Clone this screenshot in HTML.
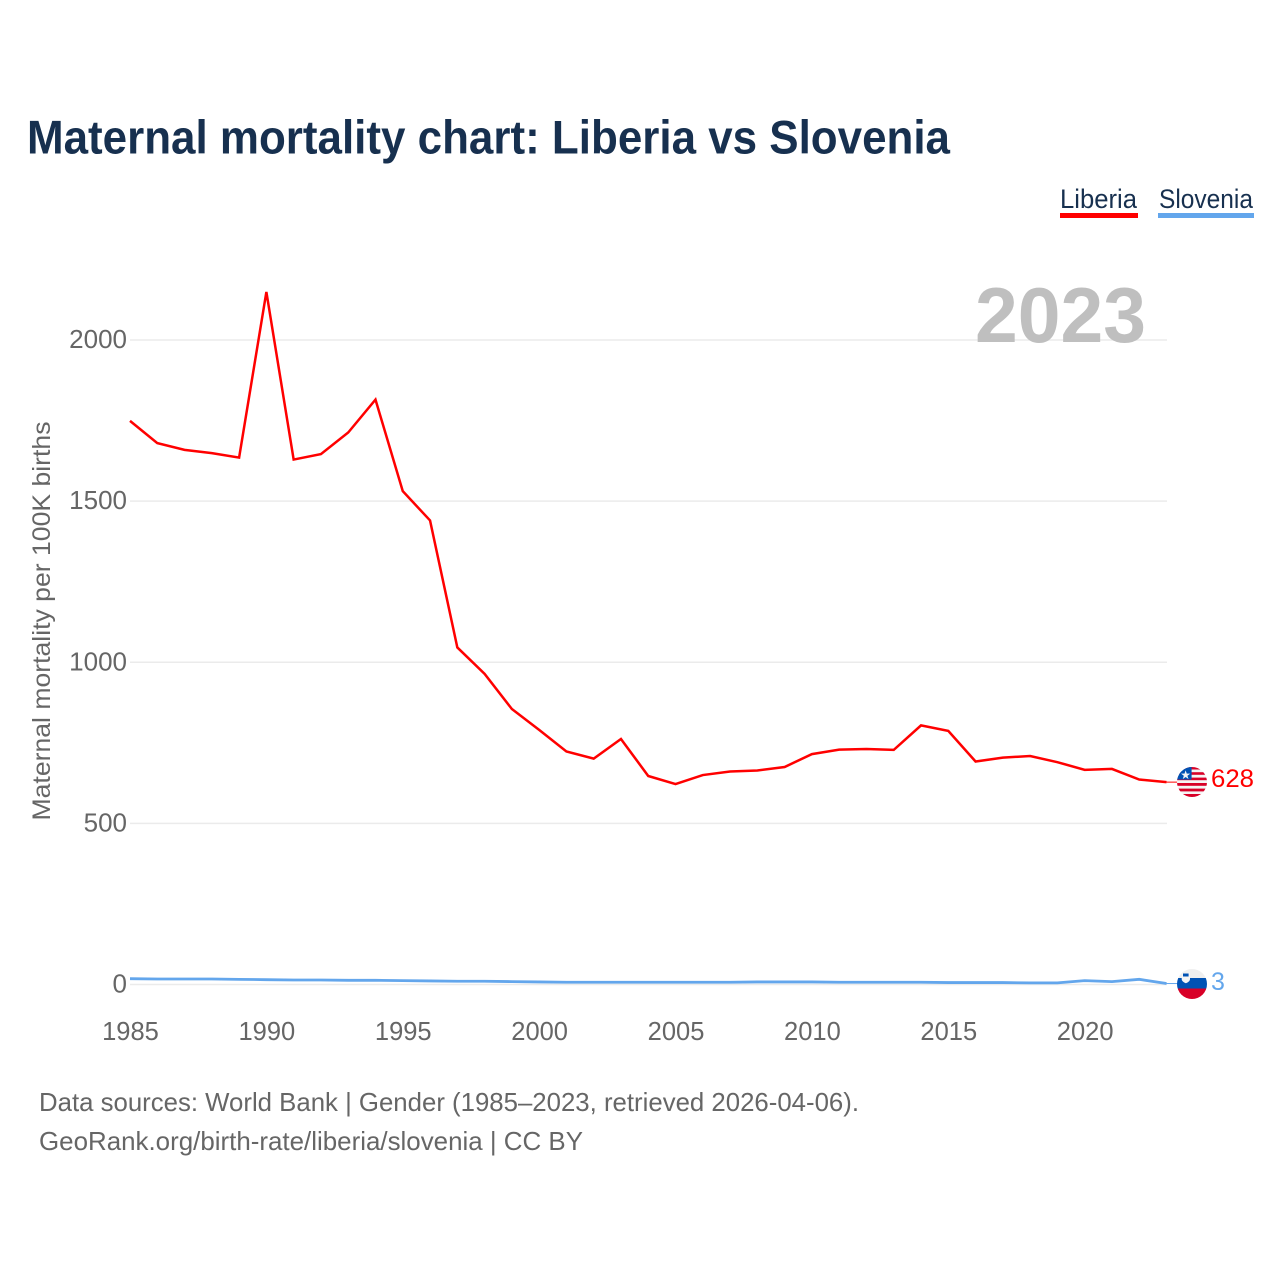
<!DOCTYPE html>
<html lang="en">
<head>
<meta charset="utf-8">
<title>Maternal mortality chart: Liberia vs Slovenia</title>
<style>
html,body{margin:0;padding:0;background:#fff;}
svg{display:block;font-family:"Liberation Sans",sans-serif;}
</style>
</head>
<body>
<svg id="chart" xmlns="http://www.w3.org/2000/svg" width="1280" height="1280" viewBox="0 0 1280 1280">
  <rect width="1280" height="1280" fill="#ffffff"/>
  <text x="27" y="153.5" font-size="47" font-weight="700" fill="#17304f" textLength="923" lengthAdjust="spacingAndGlyphs">Maternal mortality chart: Liberia vs Slovenia</text>

  <g>
    <text x="1060" y="208" font-size="26.5" fill="#17304f" textLength="77" lengthAdjust="spacingAndGlyphs">Liberia</text>
    <rect x="1060" y="213" width="78" height="5" fill="#ff0000"/>
  </g>
  <g>
    <text x="1159" y="208" font-size="26.5" fill="#17304f" textLength="94" lengthAdjust="spacingAndGlyphs">Slovenia</text>
    <rect x="1158" y="213" width="96" height="5" fill="#63a6ec"/>
  </g>

  <g id="grid"></g>
  <text x="975" y="342" font-size="78" font-weight="700" fill="#bfbfbf" textLength="171" lengthAdjust="spacingAndGlyphs">2023</text>
  <g id="yticks"></g>
  <g id="xticks"></g>
  <text transform="translate(50,621) rotate(-90)" text-anchor="middle" font-size="25" fill="#666666" textLength="399" lengthAdjust="spacingAndGlyphs">Maternal mortality per 100K births</text>

  <g id="series"></g>

  <defs>
    <clipPath id="flag-clip-lr"><circle cx="1192" cy="782" r="15"/></clipPath>
    <clipPath id="flag-clip-si"><circle cx="1192" cy="984" r="15"/></clipPath>
  </defs>

  <g id="flag-liberia" clip-path="url(#flag-clip-lr)">
    <rect x="1177" y="767" width="30" height="30" fill="#f4f4f4"/>
    <rect x="1177" y="767" width="30" height="2.5" fill="#d80027"/>
    <rect x="1177" y="772.2" width="30" height="2.6" fill="#d80027"/>
    <rect x="1177" y="777.6" width="30" height="2.6" fill="#d80027"/>
    <rect x="1177" y="783" width="30" height="2.8" fill="#d80027"/>
    <rect x="1177" y="788.6" width="30" height="2.8" fill="#d80027"/>
    <rect x="1177" y="794" width="30" height="3" fill="#d80027"/>
    <rect x="1177" y="767" width="14.6" height="12.6" fill="#0052b4"/>
    <text x="1185.6" y="779" font-size="12" text-anchor="middle" fill="#f4f4f4" font-family="DejaVu Sans, sans-serif">★</text>
  </g>
  <g id="flag-slovenia" clip-path="url(#flag-clip-si)">
    <rect x="1177" y="969" width="30" height="10" fill="#efefef"/>
    <rect x="1177" y="978" width="30" height="10.5" fill="#0052b4"/>
    <rect x="1177" y="988.5" width="30" height="10.5" fill="#d80027"/>
    <path d="M1181.7 973h8.3v6c0 2-1.800 3.400-4.150 4.200c-2.350-.8-4.150-2.200-4.150-4.200z" fill="#f4f4f4"/>
    <rect x="1183" y="973.500" width="5.600" height="3" fill="#0052b4"/>
  </g>

  <text id="value-liberia" x="1211" y="787" font-size="25" fill="#ff0000" textLength="43" lengthAdjust="spacingAndGlyphs"></text>
  <text id="value-slovenia" x="1211" y="990" font-size="25" fill="#63a6ec"></text>

  <text x="39" y="1111" font-size="26" fill="#666666" textLength="820" lengthAdjust="spacingAndGlyphs">Data sources: World Bank | Gender (1985–2023, retrieved 2026-04-06).</text>
  <text x="39" y="1150" font-size="26" fill="#666666" textLength="544" lengthAdjust="spacingAndGlyphs">GeoRank.org/birth-rate/liberia/slovenia | CC BY</text>
</svg>
<script>
var years = [1985,1986,1987,1988,1989,1990,1991,1992,1993,1994,1995,1996,1997,1998,1999,2000,2001,2002,2003,2004,2005,2006,2007,2008,2009,2010,2011,2012,2013,2014,2015,2016,2017,2018,2019,2020,2021,2022,2023];
var liberia = [1749,1680,1659,1649,1635,2149,1629,1646,1713,1815,1531,1440,1046,964,855,790,723,701,762,647,622,650,661,664,675,715,729,731,728,804,787,692,704,709,690,666,669,636,628];
var slovenia = [18,17,17,17,16,15,14,14,13,13,12,11,10,10,9,8,7,7,7,7,7,7,7,8,8,8,7,7,7,7,6,6,6,5,5,12,9,16,3];
var yTickValues = [0,500,1000,1500,2000];
var xTickValues = [1985,1990,1995,2000,2005,2010,2015,2020];

var NS = 'http://www.w3.org/2000/svg';
function xScale(year){ return 130 + (year - 1985) * (1166.5 - 130) / (2023 - 1985); }
function yScale(value){ return 984.5 - value * (984.5 - 340) / 2000; }

var gridGroup = document.getElementById('grid');
var yGroup = document.getElementById('yticks');
var xGroup = document.getElementById('xticks');
var seriesGroup = document.getElementById('series');

yTickValues.forEach(function(v){
  var line = document.createElementNS(NS, 'line');
  
  
  line.setAttribute('x1', 130);
  line.setAttribute('x2', 1167);
  line.setAttribute('y1', yScale(v));
  line.setAttribute('y2', yScale(v));
  line.setAttribute('stroke', '#ebebeb');
  line.setAttribute('stroke-width', 1.6);
  gridGroup.appendChild(line);

  var label = document.createElementNS(NS, 'text');
  
  
  label.setAttribute('x', 127);
  label.setAttribute('y', yScale(v) + 8);
  label.setAttribute('text-anchor', 'end');
  label.setAttribute('font-size', 26);
  label.setAttribute('fill', '#666666');
  label.textContent = v;
  yGroup.appendChild(label);
});

xTickValues.forEach(function(y){
  var label = document.createElementNS(NS, 'text');
  
  
  label.setAttribute('x', xScale(y) + 0.5);
  label.setAttribute('y', 1040);
  label.setAttribute('text-anchor', 'middle');
  label.setAttribute('font-size', 25.5);
  label.setAttribute('fill', '#666666');
  label.textContent = y;
  xGroup.appendChild(label);
});

function linePoints(values){
  return values.map(function(v, i){
    return xScale(years[i]).toFixed(2) + ',' + yScale(v).toFixed(2);
  }).join(' ');
}

var sloveniaLine = document.createElementNS(NS, 'polyline');


sloveniaLine.setAttribute('points', linePoints(slovenia));
sloveniaLine.setAttribute('fill', 'none');
sloveniaLine.setAttribute('stroke', '#63a6ec');
sloveniaLine.setAttribute('stroke-width', 2.8);
seriesGroup.appendChild(sloveniaLine);

var liberiaLine = document.createElementNS(NS, 'polyline');


liberiaLine.setAttribute('points', linePoints(liberia));
liberiaLine.setAttribute('fill', 'none');
liberiaLine.setAttribute('stroke', '#ff0000');
liberiaLine.setAttribute('stroke-width', 2.5);
liberiaLine.setAttribute('stroke-linejoin', 'miter');
seriesGroup.appendChild(liberiaLine);

var lastIndex = years.length - 1;

var leaderLiberia = document.createElementNS(NS, 'line');


leaderLiberia.setAttribute('x1', xScale(years[lastIndex]));
leaderLiberia.setAttribute('x2', 1178);
leaderLiberia.setAttribute('y1', yScale(liberia[lastIndex]));
leaderLiberia.setAttribute('y2', yScale(liberia[lastIndex]));
leaderLiberia.setAttribute('stroke', '#ff0000');
leaderLiberia.setAttribute('stroke-width', 1);
seriesGroup.appendChild(leaderLiberia);

var leaderSlovenia = document.createElementNS(NS, 'line');


leaderSlovenia.setAttribute('x1', xScale(years[lastIndex]));
leaderSlovenia.setAttribute('x2', 1178);
leaderSlovenia.setAttribute('y1', yScale(slovenia[lastIndex]));
leaderSlovenia.setAttribute('y2', yScale(slovenia[lastIndex]));
leaderSlovenia.setAttribute('stroke', '#63a6ec');
leaderSlovenia.setAttribute('stroke-width', 1);
seriesGroup.appendChild(leaderSlovenia);

document.getElementById('value-liberia').textContent = liberia[lastIndex];
document.getElementById('value-slovenia').textContent = slovenia[lastIndex];
</script>
</body>
</html>
